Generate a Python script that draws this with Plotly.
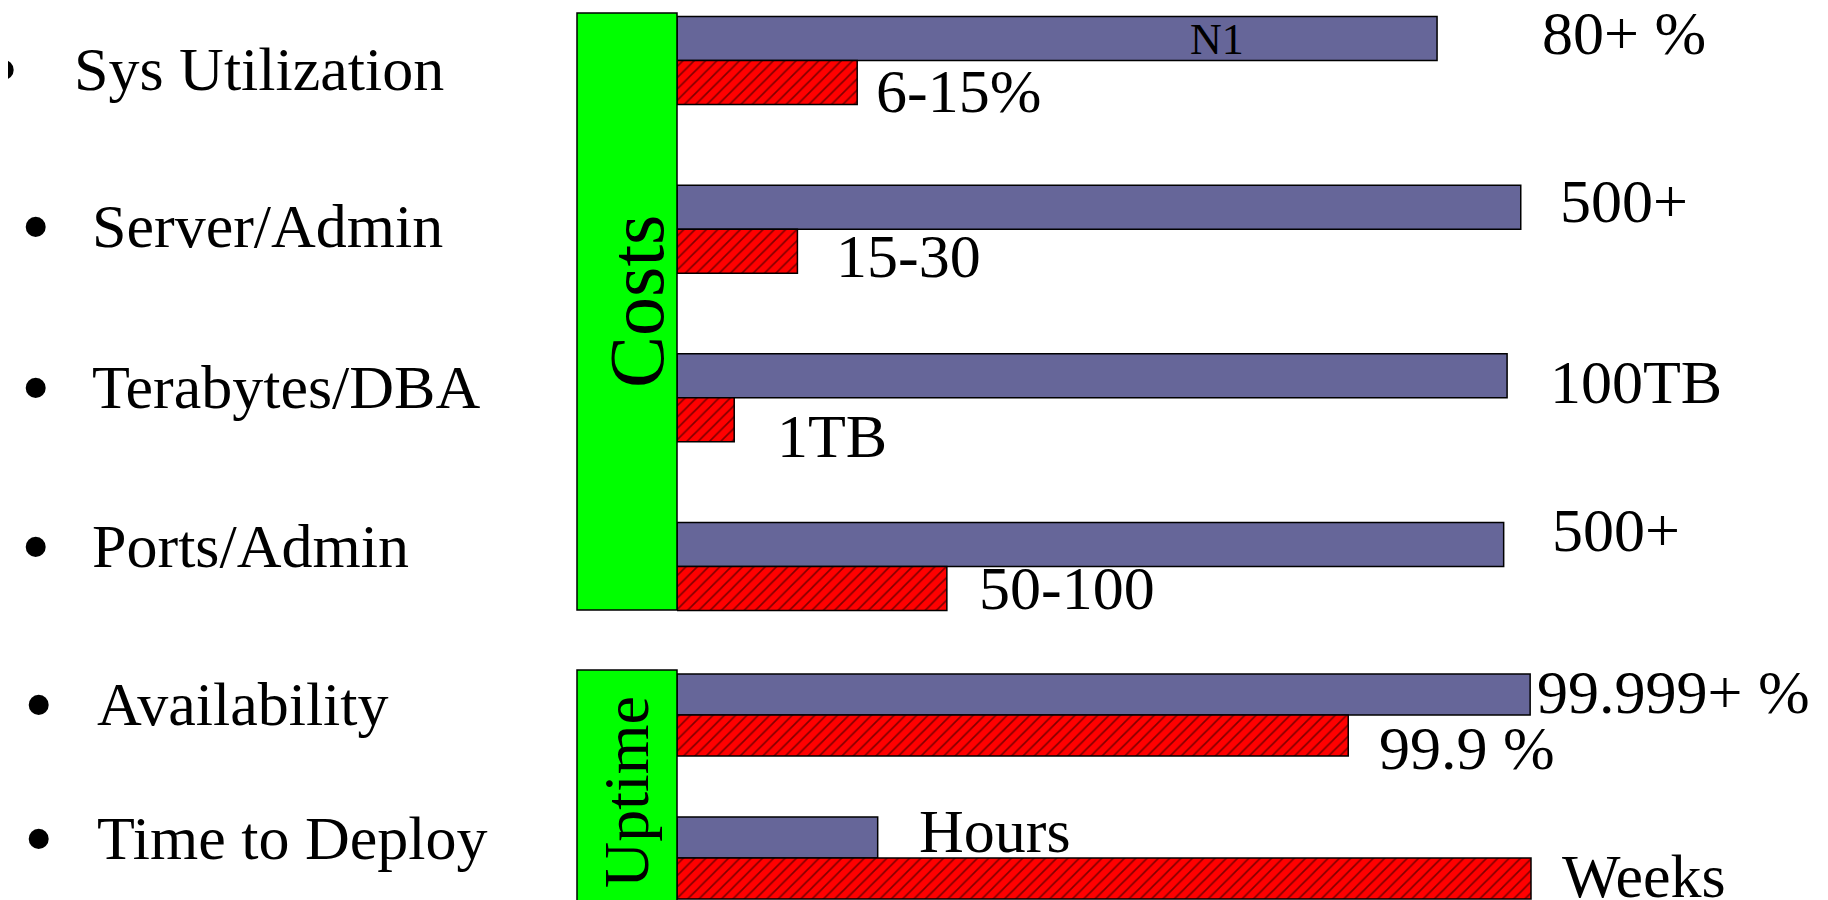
import plotly.graph_objects as go

# page body margin shifts the figure by 8px; compensate
OFF = 8
W, H = 1828 - OFF, 900 - OFF

# ---------------- data ----------------
cost_cats = ["Sys Utilization", "Server/Admin", "Terabytes/DBA", "Ports/Admin"]
cost_n1 = [89.0, 98.8, 97.2, 96.8]          # relative bar length
cost_typical = [21.1, 14.1, 6.7, 31.6]
cost_n1_labels = ["80+ %", "500+", "100TB", "500+"]
cost_typical_labels = ["6-15%", "15-30", "1TB", "50-100"]

uptime_cats = ["Availability", "Time to Deploy"]
uptime_n1 = [99.9, 23.5]
uptime_typical = [78.6, 100.0]
uptime_n1_labels = ["99.999+ %", "Hours"]
uptime_typical_labels = ["99.9 %", "Weeks"]

# ---------------- styles / placement ----------------
BLUE = "#666699"
RED = "#ff0000"
GREEN = "#00ff00"
FONT = "Liberation Serif"
FS = 62

# label offsets in px (dx right, dy down) from bar end / bar centre
cost_n1_dx = [103, 37, 41, 46]
cost_n1_dy = [-6, -6, 6, -14]
cost_ty_dx = [17, 37, 41, 30]
cost_ty_dy = [8, 5, 16, 0]
up_n1_dx = [5, 39]
up_n1_dy = [-3, -7]
up_ty_dx = [29, 29]
up_ty_dy = [12, -3]

cost_c0, cost_pitch, cost_bar_px = 60.6, 168.6, 44.0
up_c0, up_pitch, up_bar_px = 715.0, 143.0, 41.0
w_cost = cost_bar_px / cost_pitch
w_up = up_bar_px / up_pitch

def px(p):
    return (p - OFF) / W

def py(p):
    return 1 - (p - OFF) / H

fig = go.Figure()

bar_line = dict(color="black", width=1.5)
pattern = dict(shape="/", fgcolor="black", bgcolor=RED, size=8, solidity=0.2)

fig.add_trace(go.Bar(y=cost_cats, x=cost_n1, orientation="h", name="N1",
                     marker=dict(color=BLUE, line=bar_line),
                     width=w_cost, offset=-w_cost, xaxis="x", yaxis="y"))
fig.add_trace(go.Bar(y=cost_cats, x=cost_typical, orientation="h", name="Typical",
                     marker=dict(color=RED, line=bar_line, pattern=pattern),
                     width=w_cost, offset=0, xaxis="x", yaxis="y"))
fig.add_trace(go.Bar(y=uptime_cats, x=uptime_n1, orientation="h", name="N1",
                     marker=dict(color=BLUE, line=bar_line),
                     width=w_up, offset=-w_up, xaxis="x", yaxis="y2"))
fig.add_trace(go.Bar(y=uptime_cats, x=uptime_typical, orientation="h", name="Typical",
                     marker=dict(color=RED, line=bar_line, pattern=pattern),
                     width=w_up, offset=0, xaxis="x", yaxis="y2"))

ann = []

def add_labels(cats, vals, labels, dxs, dys, yref, half_px, sign):
    for c, v, t, dx, dy in zip(cats, vals, labels, dxs, dys):
        ann.append(dict(x=v, y=c, xref="x", yref=yref, text=t, showarrow=False,
                        xanchor="left", yanchor="middle", xshift=dx,
                        yshift=sign * half_px - dy,
                        font=dict(family=FONT, size=FS, color="black")))

add_labels(cost_cats, cost_n1, cost_n1_labels, cost_n1_dx, cost_n1_dy, "y", cost_bar_px / 2, 1)
add_labels(cost_cats, cost_typical, cost_typical_labels, cost_ty_dx, cost_ty_dy, "y", cost_bar_px / 2, -1)
add_labels(uptime_cats, uptime_n1, uptime_n1_labels, up_n1_dx, up_n1_dy, "y2", up_bar_px / 2, 1)
add_labels(uptime_cats, uptime_typical, uptime_typical_labels, up_ty_dx, up_ty_dy, "y2", up_bar_px / 2, -1)

# "N1" text inside first bar
ann.append(dict(x=63.2, y=cost_cats[0], xref="x", yref="y", text="N1", showarrow=False,
                xanchor="center", yanchor="middle", yshift=cost_bar_px / 2 - 1,
                font=dict(family=FONT, size=44, color="black")))

# left bullet list
left_items = cost_cats + uptime_cats
text_x = [72, 90, 90, 90, 95, 95]
bullet_x = [3, 35, 35, 35, 38, 38]
text_yc = [69, 226, 387, 546, 704, 838]
for t, tx, bx, yc in zip(left_items, text_x, bullet_x, text_yc):
    ann.append(dict(x=px(tx), y=py(yc), xref="paper", yref="paper", text=t,
                    showarrow=False, xanchor="left", yanchor="middle",
                    font=dict(family=FONT, size=FS, color="black")))
    ann.append(dict(x=px(bx), y=py(yc), xref="paper", yref="paper", text="•",
                    showarrow=False, xanchor="center", yanchor="middle",
                    font=dict(family=FONT, size=84, color="black")))

# group headers on the green boxes
ann.append(dict(x=px(637), y=py(302), xref="paper", yref="paper", text="Costs",
                showarrow=False, textangle=-90, xanchor="center", yanchor="middle",
                font=dict(family=FONT, size=78, color="black")))
ann.append(dict(x=px(626), y=py(792), xref="paper", yref="paper", text="Uptime",
                showarrow=False, textangle=-90, xanchor="center", yanchor="middle",
                font=dict(family=FONT, size=64, color="black")))

shapes = [
    dict(type="rect", xref="paper", yref="paper", x0=px(577), x1=px(677),
         y0=py(610), y1=py(13), fillcolor=GREEN, line=dict(color="black", width=1.5),
         layer="above"),
    dict(type="rect", xref="paper", yref="paper", x0=px(577), x1=px(677),
         y0=py(910), y1=py(670), fillcolor=GREEN, line=dict(color="black", width=1.5),
         layer="above"),
]

cost_top = cost_c0 - 0.3 * cost_pitch
cost_bot = cost_c0 + 3.3 * cost_pitch
up_top = up_c0 - 0.3 * up_pitch
up_span = (900 - up_top) / up_pitch

fig.update_layout(
    width=W, height=H,
    margin=dict(l=0, r=0, t=0, b=0),
    paper_bgcolor="white", plot_bgcolor="white",
    showlegend=False, barmode="overlay",
    xaxis=dict(domain=[px(677), 1], range=[0, 1151 / 8.54], visible=False,
               fixedrange=True, anchor="y"),
    yaxis=dict(domain=[py(cost_bot), py(cost_top)], range=[3.3, -0.3],
               type="category", categoryarray=cost_cats, visible=False, fixedrange=True),
    yaxis2=dict(domain=[0, py(up_top)], range=[-0.3 + up_span, -0.3],
                type="category", categoryarray=uptime_cats, visible=False, fixedrange=True),
    annotations=ann,
    shapes=shapes,
)

fig.write_html("out.html")
